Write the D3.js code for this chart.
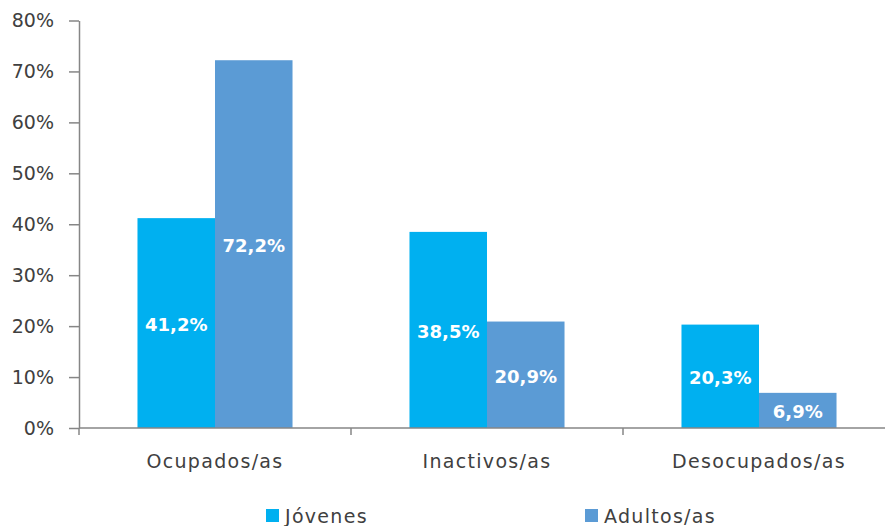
<!DOCTYPE html>
<html><head><meta charset="utf-8">
<script src="https://cdn.jsdelivr.net/npm/d3@7"></script>
<style>body{margin:0;background:#fff}svg{display:block}</style>
</head><body>
<svg id="c" width="885" height="526"></svg>
<script>
const categories = ["Ocupados/as", "Inactivos/as", "Desocupados/as"];
const seriesNames = ["Jóvenes", "Adultos/as"];
const jovenes = [41.2, 38.5, 20.3];
const adultos = [72.2, 20.9, 6.9];
const yTicks = [0, 10, 20, 30, 40, 50, 60, 70, 80];
const colors = ["#00B0F0", "#5B9BD5"];

(function () {
const svg = d3.select("#c");
const mLeft = 79, mTop = 20.5, mBottom = 428, mRight = 895;
const fmt = v => v.toFixed(1).replace(".", ",") + "%";

const y = d3.scaleLinear().domain([0, 80]).range([mBottom, mTop]);
const x0 = d3.scaleBand().domain(categories).range([mLeft, mRight]).paddingInner(0.43).paddingOuter(0.215);
const x1 = d3.scaleBand().domain(seriesNames).range([0, x0.bandwidth()]);

const data = categories.map((c, i) => ({c, vals: [jovenes[i], adultos[i]]}));

const g = svg.append("g");
data.forEach(d => {
  d.vals.forEach((v, j) => {
    const bx = x0(d.c) + x1(seriesNames[j]);
    g.append("rect").attr("x", bx).attr("y", y(v)).attr("width", x1.bandwidth()).attr("height", mBottom - y(v)).attr("fill", colors[j]);
    g.append("text").attr("x", bx + x1.bandwidth() / 2).attr("y", (y(v) + mBottom) / 2 + 8)
      .attr("text-anchor", "middle").attr("fill", "#fff").attr("font-family", "DejaVu Sans")
      .attr("font-weight", "bold").attr("font-size", 18).text(fmt(v));
  });
});

const yAxis = d3.axisLeft(y).tickValues(yTicks).tickFormat(d => d + "%").tickSize(10).tickSizeOuter(0);
const ya = svg.append("g").attr("transform", `translate(${mLeft},0)`).call(yAxis);
ya.select(".domain").attr("stroke", "#868686").attr("stroke-width", 1.5);
ya.selectAll(".tick line").attr("stroke", "#868686").attr("stroke-width", 1.5);
ya.selectAll(".tick text").attr("font-family", "DejaVu Sans").attr("font-size", 19).attr("fill", "#404040").attr("x", -25);

const xb = d3.scaleLinear().domain([0, 3]).range([mLeft, mRight]);
const xa = svg.append("g").attr("transform", `translate(0,${mBottom})`);
xa.append("line").attr("x1", mLeft).attr("x2", mRight).attr("stroke", "#868686").attr("stroke-width", 1.5);
xa.selectAll("line.t").data([0, 1, 2, 3]).join("line").attr("class", "t")
  .attr("x1", d => xb(d)).attr("x2", d => xb(d)).attr("y1", 0).attr("y2", 7)
  .attr("stroke", "#868686").attr("stroke-width", 1.5);
xa.selectAll("text").data(categories).join("text")
  .attr("x", d => x0(d) + x0.bandwidth() / 2).attr("y", 40)
  .attr("text-anchor", "middle").attr("font-family", "DejaVu Sans").attr("font-size", 19)
  .attr("letter-spacing", 1.3).attr("fill", "#404040").text(d => d);

const legX = [266, 585];
const leg = svg.append("g");
seriesNames.forEach((s, i) => {
  leg.append("rect").attr("x", legX[i]).attr("y", 509).attr("width", 13).attr("height", 13).attr("fill", colors[i]);
  leg.append("text").attr("x", legX[i] + 19).attr("y", 523).attr("font-family", "DejaVu Sans").attr("font-size", 19)
    .attr("letter-spacing", 1.3).attr("fill", "#404040").text(s);
});
})();
</script>
</body></html>
